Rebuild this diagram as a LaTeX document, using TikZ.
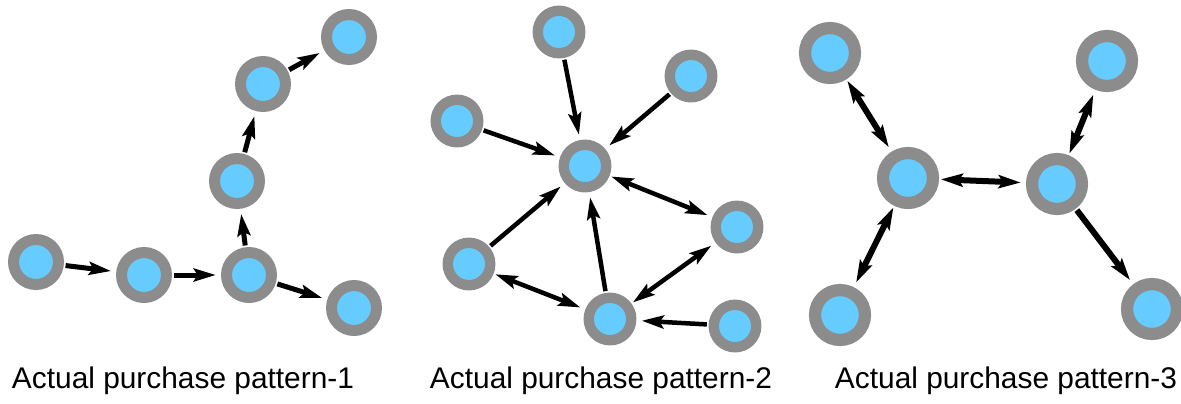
\documentclass[tikz,border=0pt]{standalone}
\usepackage{fontspec}
\setmainfont{Liberation Sans}
\usetikzlibrary{arrows.meta}
\definecolor{ring}{HTML}{8C8C8C}
\definecolor{core}{HTML}{66CCFF}

\begin{document}
\begin{tikzpicture}[x=0.02cm, y=-0.02cm,
    buyer/.style={circle, draw=ring, fill=core, inner sep=0pt, line width=#1*0.22cm, minimum size=#1*0.9cm},
    buyer/.default=1,
    link/.style={line width=#1, shorten >=3pt, shorten <=1pt},
    link/.default=0.1cm,
    >={Stealth[length=0.44cm, width=0.26cm, inset=0.08cm]},
    caption/.style={anchor=base, font=\fontsize{17}{20}\selectfont}]
         \useasboundingbox (0, 0) rectangle (1181, 403);
         % pattern 1
         \node [buyer] (A1) at (36, 262) {};
         \node [buyer] (B1) at (144, 275) {};
         \node [buyer] (C1) at (249, 275) {};
         \node [buyer] (D1) at (237, 181) {};
         \node [buyer] (E1) at (263, 84) {};
         \node [buyer] (F1) at (349, 37) {};
         \node [buyer] (G1) at (354, 308) {};
         \draw [link, ->] (A1) -- (B1);
         \draw [link, ->] (B1) -- (C1);
         \draw [link, ->] (C1) -- (D1);
         \draw [link, ->] (D1) -- (E1);
         \draw [link, ->] (E1) -- (F1);
         \draw [link, ->] (C1) -- (G1);
         \node [caption] at (183, 388) {Actual purchase pattern-1};
         % pattern 2
         \node [buyer=0.945] (H2) at (585, 166) {};
         \node [buyer=0.945] (I2) at (559, 32) {};
         \node [buyer=0.945] (J2) at (691, 76) {};
         \node [buyer=0.945] (K2) at (457, 121) {};
         \node [buyer=0.945] (L2) at (737, 227) {};
         \node [buyer=0.945] (M2) at (469, 264) {};
         \node [buyer=0.945] (N2) at (610, 319) {};
         \node [buyer=0.945] (O2) at (735, 326) {};
         \draw [link=0.09cm, ->] (I2) -- (H2);
         \draw [link=0.09cm, ->] (J2) -- (H2);
         \draw [link=0.09cm, ->] (K2) -- (H2);
         \draw [link=0.09cm, <->] (H2) -- (L2);
         \draw [link=0.09cm, ->] (M2) -- (H2);
         \draw [link=0.09cm, ->] (N2) -- (H2);
         \draw [link=0.09cm, <->] (M2) -- (N2);
         \draw [link=0.09cm, <->] (N2) -- (L2);
         \draw [link=0.09cm, ->] (O2) -- (N2);
         \node [caption] at (601, 388) {Actual purchase pattern-2};
         % pattern 3
         \node [buyer=1.11] (P3) at (830, 53) {};
         \node [buyer=1.11] (Q3) at (1107, 61) {};
         \node [buyer=1.11] (R3) at (908, 178) {};
         \node [buyer=1.11] (S3) at (1057, 184) {};
         \node [buyer=1.11] (T3) at (840, 315) {};
         \node [buyer=1.11] (U3) at (1152, 309) {};
         \draw [link=0.12cm, <->] (P3) -- (R3);
         \draw [link=0.12cm, <->] (R3) -- (S3);
         \draw [link=0.12cm, <->] (S3) -- (Q3);
         \draw [link=0.12cm, <->] (R3) -- (T3);
         \draw [link=0.12cm, ->] (S3) -- (U3);
         \node [caption] at (1006, 388) {Actual purchase pattern-3};
 \end{tikzpicture}
\end{document}
